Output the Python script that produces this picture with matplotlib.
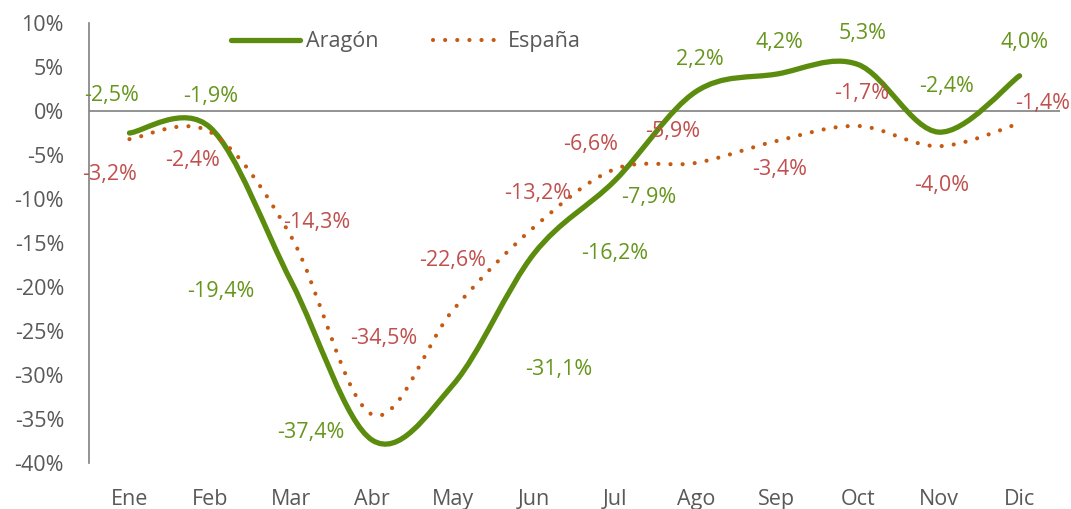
import numpy as np
import matplotlib.pyplot as plt
from matplotlib.path import Path
from matplotlib.patches import PathPatch
from matplotlib.lines import Line2D

plt.rcParams['font.family'] = ['Open Sans', 'DejaVu Sans']

meses = ['Ene', 'Feb', 'Mar', 'Abr', 'May', 'Jun', 'Jul', 'Ago', 'Sep', 'Oct', 'Nov', 'Dic']
aragon = [-2.5, -1.9, -19.4, -37.4, -31.1, -16.2, -7.9, 2.2, 4.2, 5.3, -2.4, 4.0]
espana = [-3.2, -2.4, -14.3, -34.5, -22.6, -13.2, -6.6, -5.9, -3.4, -1.7, -4.0, -1.4]

# label offsets in pixels (dx, dy)
off_aragon = [(-18, 38), (0, 31), (-70, -10), (-61, 8), (106, 15), (81, 0),
              (34, -17), (4, 32), (3, 32), (5, 31), (8, 46), (5, 33)]
off_espana = [(-20, -35), (-18, -28), (25, 14), (12, 76), (0, 49), (4, 34),
              (-24, 25), (-23, 31), (3, -29), (4, 32), (3, -39), (23, 20)]

verde = '#5B8C0E'
verde_txt = '#66961C'
naranja = '#C55A11'
rojo_txt = '#C0504D'
gris = '#595959'


def smooth_path(xs, ys):
    # excel-like smoothed line: bezier segments through every point
    pts = np.column_stack([xs, ys]).astype(float)
    n = len(pts)
    verts = [pts[0]]
    codes = [Path.MOVETO]
    for i in range(n - 1):
        p0 = pts[i - 1] if i > 0 else pts[i]
        p1 = pts[i]
        p2 = pts[i + 1]
        p3 = pts[i + 2] if i + 2 < n else pts[i + 1]
        c1 = p1 + (p2 - p0) / 6
        c2 = p2 - (p3 - p1) / 6
        verts += [c1, c2, p2]
        codes += [Path.CURVE4] * 3
    return Path(verts, codes)


fig = plt.figure(figsize=(10.71, 5.09), dpi=100)
ax = fig.add_axes([89 / 1071, 46 / 509, 971 / 1071, 440 / 509])

x = np.arange(len(meses))

ax.add_patch(PathPatch(smooth_path(x, aragon), fill=False, edgecolor=verde,
                       linewidth=3.8, capstyle='round', zorder=3))
ax.add_patch(PathPatch(smooth_path(x, espana), fill=False, edgecolor=naranja,
                       linewidth=3.0, linestyle=(0, (0.01, 2.9)), capstyle='round', zorder=3))

for i, v in enumerate(aragon):
    ax.annotate(f"{v:.1f}%".replace('.', ','), (x[i], v), xytext=off_aragon[i],
                textcoords='offset pixels', ha='center', va='center',
                color=verde_txt, fontsize=15.5, zorder=4)
for i, v in enumerate(espana):
    ax.annotate(f"{v:.1f}%".replace('.', ','), (x[i], v), xytext=off_espana[i],
                textcoords='offset pixels', ha='center', va='center',
                color=rojo_txt, fontsize=15.5, zorder=4)

ax.axhline(0, color='#808080', linewidth=1.2, zorder=2)

ax.set_xlim(-0.5, 11.5)
ax.set_ylim(-40, 10)
ax.set_xticks(x)
ax.set_xticklabels(meses)
ax.set_yticks(np.arange(-40, 11, 5))
ax.set_yticklabels([f"{t}%" for t in range(-40, 11, 5)])
ax.tick_params(axis='both', length=0, labelsize=15.5, colors=gris)
ax.tick_params(axis='x', pad=19)
ax.tick_params(axis='y', pad=18)

for s in ['top', 'right', 'bottom']:
    ax.spines[s].set_visible(False)
ax.spines['left'].set_color('#808080')
ax.spines['left'].set_linewidth(1.2)

handles = [Line2D([], [], color=verde, linewidth=3.8, solid_capstyle='round'),
           Line2D([], [], color=naranja, linewidth=3.0, linestyle=(0, (0.01, 2.9)),
                  dash_capstyle='round')]
ax.legend(handles, ['Aragón', 'España'], loc='center left',
          bbox_to_anchor=(231 / 1071, 1 - 42 / 509), bbox_transform=fig.transFigure,
          ncol=2, frameon=False, fontsize=15.5, labelcolor=gris, handlelength=3.2,
          columnspacing=2.5, handletextpad=0.3, borderpad=0, borderaxespad=0)

fig.savefig('out.png', dpi=100)
